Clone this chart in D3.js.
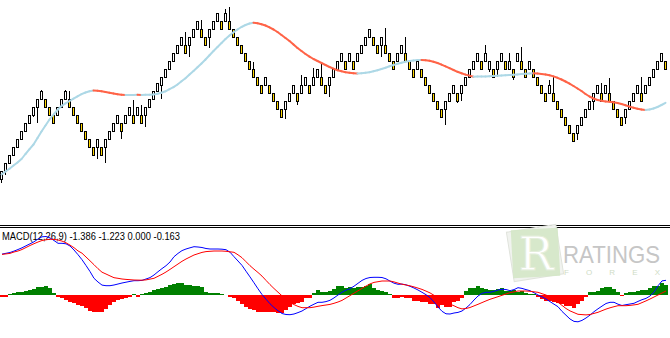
<!DOCTYPE html>
<html>
  <head>
    <meta charset="utf-8">
    <script src="https://d3js.org/d3.v7.min.js"></script>
    <style>
      body { margin: 0; background: #fff; }
      svg { display: block; }
    </style>
  </head>
  <body>
    <div id="chart"></div>
    <script>
      // price in arbitrary units, one candle per bar
      const opens = [
        21, 29, 37, 45, 53, 61, 69, 77, 85, 93,
        101, 101, 93, 85, 85, 93, 101, 101, 93, 85,
        77, 69, 61, 53, 53, 53, 53, 61, 69, 77,
        77, 77, 85, 85, 85, 85, 85, 93, 101, 109,
        115, 123, 131, 139, 147, 155, 155, 155, 163, 171,
        171, 163, 163, 171, 179, 179, 179, 179, 171, 163,
        155, 147, 139, 131, 123, 115, 115, 115, 107, 99,
        91, 91, 99, 107, 107, 107, 115, 115, 115, 123,
        123, 115, 115, 123, 131, 139, 139, 139, 139, 139,
        147, 155, 163, 163, 155, 155, 155, 147, 139, 139,
        147, 147, 139, 131, 131, 131, 123, 115, 107, 99,
        91, 91, 99, 107, 107, 107, 115, 123, 131, 139,
        139, 139, 131, 131, 131, 139, 139, 131, 131, 139,
        139, 131, 131, 131, 123, 115, 107, 107, 107, 99,
        91, 83, 75, 67, 67, 75, 83, 91, 99, 107,
        107, 107, 107, 99, 91, 83, 83, 91, 99, 107,
        107, 107, 115, 123, 131, 139, 139
      ];
      const closes = [
        29, 37, 45, 53, 61, 69, 77, 85, 93, 101,
        109, 93, 85, 77, 93, 101, 109, 93, 85, 77,
        69, 61, 53, 45, 61, 45, 61, 69, 77, 85,
        69, 85, 93, 77, 93, 77, 93, 101, 109, 117,
        123, 131, 139, 147, 155, 163, 147, 163, 171, 179,
        163, 155, 171, 179, 187, 171, 187, 171, 163, 155,
        147, 139, 131, 123, 115, 107, 123, 107, 99, 91,
        83, 99, 107, 115, 99, 115, 123, 107, 123, 131,
        115, 107, 123, 131, 139, 147, 131, 147, 131, 147,
        155, 163, 171, 155, 147, 163, 147, 139, 131, 147,
        155, 139, 131, 123, 139, 123, 115, 107, 99, 91,
        83, 99, 107, 115, 99, 115, 123, 131, 139, 147,
        131, 147, 139, 123, 139, 147, 131, 139, 123, 147,
        131, 123, 139, 123, 115, 107, 99, 115, 99, 91,
        83, 75, 67, 59, 75, 83, 91, 99, 107, 115,
        99, 115, 99, 91, 83, 75, 91, 99, 107, 115,
        99, 115, 123, 131, 139, 147, 131
      ];
      const highs = [
        29, 37, 45, 53, 61, 69, 77, 85, 93, 101,
        110, 101, 93, 85, 93, 101, 110, 109, 93, 85,
        77, 69, 61, 53, 61, 53, 61, 69, 77, 85,
        77, 85, 93, 100, 93, 95, 93, 101, 109, 117,
        123, 131, 139, 147, 155, 163, 168, 163, 171, 179,
        180, 163, 171, 179, 187, 179, 191, 193, 171, 163,
        155, 147, 139, 138, 123, 115, 123, 115, 107, 99,
        91, 99, 107, 115, 107, 125, 123, 115, 132, 131,
        137, 115, 123, 131, 139, 147, 139, 147, 139, 147,
        155, 163, 171, 163, 155, 163, 172, 147, 139, 147,
        155, 163, 139, 131, 139, 131, 123, 115, 107, 99,
        91, 99, 107, 115, 107, 115, 123, 131, 139, 147,
        139, 155, 139, 131, 139, 147, 139, 147, 131, 147,
        153, 131, 139, 131, 123, 115, 107, 120, 123, 99,
        91, 83, 75, 67, 75, 83, 91, 99, 107, 115,
        117, 115, 122, 99, 91, 83, 91, 99, 107, 115,
        123, 115, 123, 131, 139, 147, 139
      ];
      const lows = [
        17, 25, 37, 45, 53, 61, 69, 77, 83, 77,
        101, 93, 85, 76, 85, 93, 101, 93, 85, 77,
        69, 61, 53, 45, 41, 45, 37, 61, 69, 77,
        61, 77, 85, 77, 85, 77, 73, 93, 101, 109,
        101, 123, 131, 139, 147, 155, 147, 143, 163, 171,
        163, 155, 152, 171, 179, 171, 179, 171, 163, 155,
        147, 139, 131, 123, 115, 107, 115, 107, 99, 91,
        83, 81, 99, 107, 95, 107, 115, 107, 115, 123,
        115, 107, 103, 123, 131, 139, 131, 139, 131, 139,
        147, 155, 163, 155, 147, 143, 147, 139, 131, 139,
        147, 139, 131, 123, 131, 123, 115, 107, 99, 91,
        83, 75, 99, 107, 97, 99, 115, 123, 131, 139,
        131, 139, 128, 123, 123, 139, 131, 131, 120, 139,
        131, 123, 131, 123, 115, 107, 99, 107, 99, 91,
        83, 75, 67, 59, 60, 75, 82, 91, 90, 107,
        99, 107, 99, 91, 83, 75, 76, 90, 99, 107,
        99, 107, 115, 123, 131, 139, 131
      ];
      const maValues = [
        25.5, 28.5, 31.3, 34.5, 37.5, 41, 46, 50.8, 55.5, 62,
        68.5, 74.5, 80.5, 85.5, 90, 94, 96.7, 99, 101.3, 103.7,
        105.8, 107.5, 108.8, 109.5, 109.3, 108.8, 108, 107.2, 106.5, 105.8,
        105.3, 104.9, 105.0, 105.1, 105.2, 105.1, 105.2, 105.35, 105.6, 106.2,
        107.2, 108.7, 110.8, 112.8, 115.5, 118.7, 121.8, 125.5, 129, 132.7,
        136.5, 140.5, 144.7, 149, 153, 157, 161, 164.5, 167.7, 170.5,
        173, 175, 176.5, 177.3, 176.8, 175.8, 174.5, 172.7, 170.5, 168,
        165, 162, 159, 155.5, 152, 149, 146, 143.3, 141, 139,
        137, 135, 133, 131.3, 129.8, 128.7, 127.8, 127.2, 126.8, 126.6,
        126.8, 127.2, 127.8, 128.7, 129.8, 131, 132.3, 133.7, 135, 136.2,
        137.3, 138.2, 139, 139.5, 139.9, 140.1, 139.8, 139.2, 138.3, 137,
        135.4, 133.7, 131.8, 130, 128.2, 126.7, 125.4, 124.4, 123.3, 123.4,
        123.5, 123.6, 123.8, 124.0, 124.2, 124.4, 124.7, 125.0, 125.3, 125.6,
        125.9, 126.2, 126.5, 126.7, 126.5, 126.1, 125.6, 124.8, 123.6, 122.2,
        120.5, 118.5, 116.4, 114, 111.5, 109, 106, 103.5, 101.5, 100,
        99.2, 98.6, 98.2, 97.7, 97, 96, 94.7, 93.4, 92.2, 91.2,
        90.5, 90, 90.5, 91.5, 93, 95, 97.2
      ];

      const macdMain = [
        4.09, 4.17, 4.25, 4.39, 4.55, 4.72, 4.92, 5.12, 5.32, 5.6,
        5.82, 5.85, 5.71, 5.45, 5.17, 5.17, 5.12, 4.9, 4.5, 4.03,
        3.53, 2.95, 2.35, 1.67, 1.3, 0.99, 0.93, 0.93, 1.0, 1.1,
        1.2, 1.28, 1.36, 1.43, 1.43, 1.46, 1.6, 1.74, 2.0, 2.33,
        2.64, 2.93, 3.3, 3.83, 4.16, 4.44, 4.6, 4.72, 4.83, 4.8,
        4.75, 4.65, 4.6, 4.6, 4.6, 4.58, 4.53, 4.28, 3.83, 3.4,
        2.96, 2.38, 1.81, 1.22, 0.62, 0.05, -0.42, -0.88, -1.25, -1.58,
        -1.85, -1.95, -1.97, -1.9, -1.76, -1.6, -1.36, -1.12, -0.92, -0.73,
        -0.73, -0.66, -0.53, -0.29, 0, 0.27, 0.48, 0.63, 0.88, 1.17,
        1.46, 1.65, 1.75, 1.77, 1.77, 1.75, 1.62, 1.39, 1.18, 1.07,
        1.09, 1.02, 0.87, 0.7, 0.5, 0.27, 0.03, -0.26, -0.7, -1.2,
        -1.63, -1.88, -1.9, -1.8, -1.74, -1.6, -1.3, -0.95, -0.5, -0.1,
        0.16, 0.27, 0.27, 0.37, 0.5, 0.57, 0.55, 0.43, 0.54, 0.73,
        0.66, 0.54, 0.43, 0.23, 0, -0.18, -0.4, -0.66, -0.92, -1.17,
        -1.64, -2.02, -2.4, -2.64, -2.68, -2.54, -2.3, -2.01, -1.67, -1.38,
        -1.11, -0.85, -0.73, -0.73, -0.92, -1.05, -0.97, -0.9, -0.83, -0.64,
        -0.47, -0.34, -0.1, 0.27, 0.92, 1.41, 1.47
      ];
      const macdSignal = [
        4.06, 4.11, 4.16, 4.3, 4.4, 4.55, 4.75, 4.95, 5.13, 5.3,
        5.45, 5.52, 5.58, 5.56, 5.5, 5.39, 5.22, 4.99, 4.73, 4.41,
        4.18, 3.8, 3.42, 3.03, 2.63, 2.28, 2.1, 1.91, 1.73, 1.67,
        1.6, 1.56, 1.53, 1.5, 1.49, 1.48, 1.51, 1.59, 1.67, 1.87,
        2.07, 2.3, 2.56, 2.83, 3.1, 3.37, 3.6, 3.8, 4.0, 4.13,
        4.26, 4.34, 4.37, 4.4, 4.4, 4.4, 4.37, 4.32, 4.27, 4.02,
        3.73, 3.33, 2.93, 2.58, 2.25, 1.89, 1.46, 1.04, 0.65, 0.28,
        -0.08, -0.42, -0.75, -0.96, -1.14, -1.27, -1.27, -1.27, -1.21, -1.13,
        -1.06, -1.0, -0.94, -0.83, -0.7, -0.54, -0.3, -0.06, 0.18, 0.42,
        0.66, 0.89, 1.11, 1.26, 1.33, 1.4, 1.4, 1.4, 1.31, 1.19,
        1.08, 1.0, 0.92, 0.81, 0.69, 0.56, 0.39, 0.21, -0.03, -0.3,
        -0.55, -0.73, -0.91, -1.08, -1.27, -1.39, -1.35, -1.25, -1.09, -0.93,
        -0.76, -0.59, -0.43, -0.3, -0.17, -0.03, 0.1, 0.23, 0.31, 0.4,
        0.4, 0.4, 0.37, 0.32, 0.27, 0.13, 0, -0.2, -0.47, -0.73,
        -1.04, -1.35, -1.59, -1.76, -1.93, -1.96, -1.99, -1.95, -1.84, -1.73,
        -1.57, -1.41, -1.28, -1.17, -1.07, -1.07, -1.07, -1.04, -0.99, -0.93,
        -0.76, -0.59, -0.4, -0.2, 0, 0.2, 0.4
      ];
      const macdHist = [
        -0.15, -0.15, 0.08, 0.17, 0.3, 0.35, 0.4, 0.5, 0.65, 0.77,
        0.83, 0.87, 0.7, 0.23, -0.17, -0.3, -0.45, -0.65, -0.8, -0.95,
        -1.1, -1.3, -1.55, -1.7, -1.73, -1.65, -1.4, -0.95, -0.65, -0.5,
        -0.4, -0.3, -0.2, 0.08, -0.15, 0.13, 0.25, 0.35, 0.5, 0.65,
        0.75, 0.85, 1.0, 1.1, 1.17, 1.2, 1.05, 1.0, 0.95, 0.95,
        0.85, 0.3, 0.25, 0.25, 0.2, 0.1, 0.05, -0.15, -0.33, -0.6,
        -0.85, -1.17, -1.35, -1.5, -1.73, -1.73, -1.67, -1.67, -1.67, -1.83,
        -1.83, -1.5, -1.17, -0.93, -0.75, -0.67, -0.33, -0.25, 0.2, 0.5,
        0.33, 0.33, 0.4, 0.6, 0.9, 0.9, 0.67, 0.83, 0.67, 0.83,
        0.83, 0.93, 1.07, 0.67, 0.5, 0.4, 0.27, 0.1, -0.27, -0.27,
        -0.17, -0.33, -0.33, -0.6, -0.6, -0.73, -0.73, -0.93, -0.93, -1.27,
        -1.0, -1.17, -1.17, -0.73, -0.6, -0.27, 0.4, 0.73, 0.73, 0.93,
        0.73, 0.6, 0.5, 0.5, 0.6, 0.73, 0.4, 0.45, 0.5, 0.27,
        0.4, 0.17, 0.07, 0.07, -0.17, -0.4, -0.6, -0.6, -0.73, -0.83,
        -0.93, -1.07, -1.07, -1.27, -0.93, -0.6, -0.17, 0.27, 0.27, 0.4,
        0.73, 0.83, 0.83, 0.6, 0.27, -0.1, 0.17, 0.27, 0.27, 0.4,
        0.5, 0.5, 0.73, 0.93, 0.93, 1.17, 1.0
      ];
      const macdLabel = "MACD(12,26,9) -1.386 -1.223 0.000 -0.163";

      var width = 670, height = 338;

      var svg = d3.select("#chart")
        .append("svg")
          .attr("width", width)
          .attr("height", height);

      var idx = d3.range(opens.length);

      var x = d3.scaleBand()
        .domain(idx)
        .range([0, idx.length * 4]);

      var y = d3.scaleLinear()
        .domain([-22, 200])
        .range([222, 0]);

      var ym = d3.scaleLinear()
        .domain([-4.3, 7.2])
        .range([338, 223]);

      // --- price panel ---
      var candles = svg.append("g").attr("shape-rendering", "crispEdges");

      candles.selectAll("line.wick")
        .data(idx)
        .enter().append("line")
          .attr("class", "wick")
          .attr("x1", d => x(d) + 1.5)
          .attr("x2", d => x(d) + 1.5)
          .attr("y1", d => y(highs[d]))
          .attr("y2", d => y(lows[d]))
          .attr("stroke", "#000")
          .attr("stroke-width", 1);

      candles.selectAll("rect.body")
        .data(idx)
        .enter().append("rect")
          .attr("class", "body")
          .attr("x", d => x(d) + 0.5)
          .attr("y", d => y(Math.max(opens[d], closes[d])) + 0.5)
          .attr("width", 2)
          .attr("height", d => Math.abs(y(opens[d]) - y(closes[d])))
          .attr("fill", d => closes[d] >= opens[d] ? "#ffffff" : "#ffd700")
          .attr("stroke", "#000")
          .attr("stroke-width", 1);

      // moving average, light blue when rising, tomato when falling
      var maSegs = idx.slice(1);
      svg.append("g").selectAll("line")
        .data(maSegs)
        .enter().append("line")
          .attr("x1", d => x(d - 1) + 1.5)
          .attr("y1", d => y(maValues[d - 1]))
          .attr("x2", d => x(d) + 1.5)
          .attr("y2", d => y(maValues[d]))
          .attr("stroke", d => maValues[d] >= maValues[d - 1] ? "#add8e6" : "#ff6347")
          .attr("stroke-width", 2)
          .attr("stroke-linecap", "round");

      // panel separator
      svg.append("g").attr("shape-rendering", "crispEdges")
        .selectAll("line")
        .data([225.5, 227.5])
        .enter().append("line")
          .attr("x1", 0).attr("x2", width)
          .attr("y1", d => d).attr("y2", d => d)
          .attr("stroke", "#000");

      // watermark
      var logo = svg.append("g").attr("transform", "translate(535,253)");
      logo.append("rect")
        .attr("x", -25).attr("y", -25).attr("width", 50).attr("height", 50)
        .attr("transform", "rotate(-9)")
        .attr("fill", "#f1f3ef").attr("stroke", "#e0e3dc");
      logo.append("rect")
        .attr("x", -23).attr("y", -24).attr("width", 47).attr("height", 48)
        .attr("transform", "rotate(-3)")
        .attr("fill", "#d4e7c6").attr("opacity", 0.9);
      logo.append("text")
        .attr("x", 1).attr("y", 17)
        .attr("text-anchor", "middle")
        .attr("font-family", "'DejaVu Serif', serif")
        .attr("font-size", 46)
        .attr("fill", "#ffffff")
        .attr("stroke", "#e4eedb")
        .text("R");

      svg.append("text")
        .attr("x", 563).attr("y", 263)
        .attr("font-family", "'Liberation Sans', Arial, sans-serif")
        .attr("font-size", 24)
        .attr("fill", "#c6c6c6")
        .attr("textLength", 97)
        .attr("lengthAdjust", "spacingAndGlyphs")
        .text("RATINGS");

      svg.append("text")
        .attr("x", 564).attr("y", 275)
        .attr("font-family", "'Liberation Sans', Arial, sans-serif")
        .attr("font-size", 8)
        .attr("fill", "#cfdcc6")
        .attr("textLength", 96)
        .attr("lengthAdjust", "spacing")
        .text("FOREX");

      // --- MACD panel ---
      svg.append("text")
        .attr("x", 2).attr("y", 240)
        .attr("font-family", "Tahoma, 'Liberation Sans', Arial, sans-serif")
        .attr("font-size", 10)
        .attr("fill", "#000")
        .attr("textLength", 178)
        .attr("lengthAdjust", "spacingAndGlyphs")
        .text(macdLabel);

      svg.append("g").attr("shape-rendering", "crispEdges")
        .selectAll("rect")
        .data(idx)
        .enter().append("rect")
          .attr("x", d => x(d))
          .attr("width", 4)
          .attr("y", d => Math.min(ym(0), ym(macdHist[d])))
          .attr("height", d => Math.abs(ym(macdHist[d]) - ym(0)))
          .attr("fill", d => macdHist[d] >= 0 ? "#008000" : "#ff0000");

      var mainLine = d3.line()
        .x(d => x(d) + 2)
        .y(d => ym(macdMain[d]));
      var signalLine = d3.line()
        .x(d => x(d) + 2)
        .y(d => ym(macdSignal[d]));

      svg.append("path")
        .datum(idx)
        .attr("fill", "none")
        .attr("stroke", "#0000ff")
        .attr("stroke-width", 1)
        .attr("d", mainLine);

      svg.append("path")
        .datum(idx)
        .attr("fill", "none")
        .attr("stroke", "#ff0000")
        .attr("stroke-width", 1)
        .attr("d", signalLine);
    </script>
  </body>
</html>
